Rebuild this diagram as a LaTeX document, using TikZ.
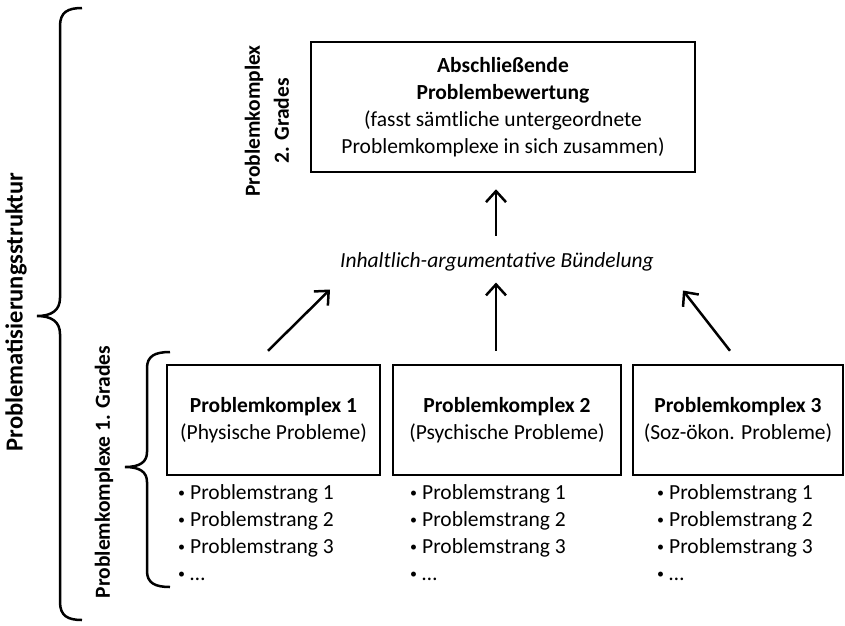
\documentclass[tikz,border=0pt]{standalone}
\usepackage{fontspec}
\setmainfont{Carlito}
\usetikzlibrary{arrows.meta}
\newcommand\grundschrift{\fontsize{21.5}{27}\selectfont}
\newcommand\pkt{\raisebox{1.5pt}{\fontsize{14}{14}\selectfont•}\hspace{5pt}}
\tikzset{
  kasten/.style={draw, line width=2.5pt, minimum width=213pt, minimum height=110pt, align=center, inner sep=0pt, font=\grundschrift},
  pfeil/.style={line width=2.5pt, -{Straight Barb[length=11pt,width=20pt]}},
  klammer/.style={line width=2.5pt},
  liste/.style={align=left, inner sep=0pt, anchor=north west, font=\grundschrift},
  seite/.style={rotate=90, align=center, font=\grundschrift\bfseries},
}
\begin{document}
\begin{tikzpicture}[x=1pt,y=-1pt]
\useasboundingbox (0,0) rectangle (845,625);
% linke Seite
\node[seite, font=\fontsize{24.5}{30}\selectfont\bfseries] (struktur) at (16,312) {Problematisierungsstruktur};
\node[seite] (grad1) at (104,472) {Problemkomplexe 1. Grades};
\node[seite, font=\fontsize{21.5}{29}\selectfont\bfseries] (grad2) at (267,121) {Problemkomplex\\2. Grades};
\draw[klammer] (82,8) .. controls (68,8) and (60,12) .. (60,26) -- (60,298) .. controls (60,310) and (52,316) .. (37,316) .. controls (52,316) and (60,322) .. (60,334) -- (60,602) .. controls (60,616) and (68,620) .. (82,620);
\draw[klammer] (170,352) .. controls (155,352) and (147,356) .. (147,368) -- (147,452) .. controls (147,462) and (140,467) .. (125,467) .. controls (140,467) and (147,472) .. (147,482) -- (147,571) .. controls (147,583) and (155,587) .. (170,587);
% Kaesten
\node[kasten, minimum width=384pt, minimum height=130pt] (bewertung) at (503,107) {\textbf{Abschließende}\\\textbf{Problembewertung}\\(fasst sämtliche untergeordnete\\Problemkomplexe in sich zusammen)};
\node[inner sep=0pt, font=\grundschrift\itshape] (buendel) at (497,262) {Inhaltlich-argumentative Bündelung};
\node[kasten] (pk1) at (273.5,420) {\textbf{Problemkomplex 1}\\(Physische Probleme)};
\node[kasten, minimum width=228pt] (pk2) at (507,420) {\textbf{Problemkomplex 2}\\(Psychische Probleme)};
\node[kasten, minimum width=210pt] (pk3) at (738,420) {\textbf{Problemkomplex 3}\\(Soz-ökon. Probleme)};
% Listen
\node[liste] (str1) at (178,484) {\pkt Problemstrang 1\\\pkt Problemstrang 2\\\pkt Problemstrang 3\\\pkt …};
\node[liste] (str2) at (410,484) {\pkt Problemstrang 1\\\pkt Problemstrang 2\\\pkt Problemstrang 3\\\pkt …};
\node[liste] (str3) at (657,484) {\pkt Problemstrang 1\\\pkt Problemstrang 2\\\pkt Problemstrang 3\\\pkt …};
% Pfeile
\draw[pfeil] ([xshift=-1pt,yshift=17pt]buendel.north) -- ([xshift=-7pt,yshift=-16pt]bewertung.south);
\draw[pfeil] ([xshift=-5.5pt,yshift=13pt]pk1.north) -- ([xshift=-167pt,yshift=-18pt]buendel.south);
\draw[pfeil] ([xshift=-11pt,yshift=13pt]pk2.north) -- ([xshift=-1pt,yshift=-11pt]buendel.south);
\draw[pfeil] ([xshift=-8pt,yshift=13pt]pk3.north) -- ([xshift=186pt,yshift=-19pt]buendel.south);
\end{tikzpicture}
\end{document}
